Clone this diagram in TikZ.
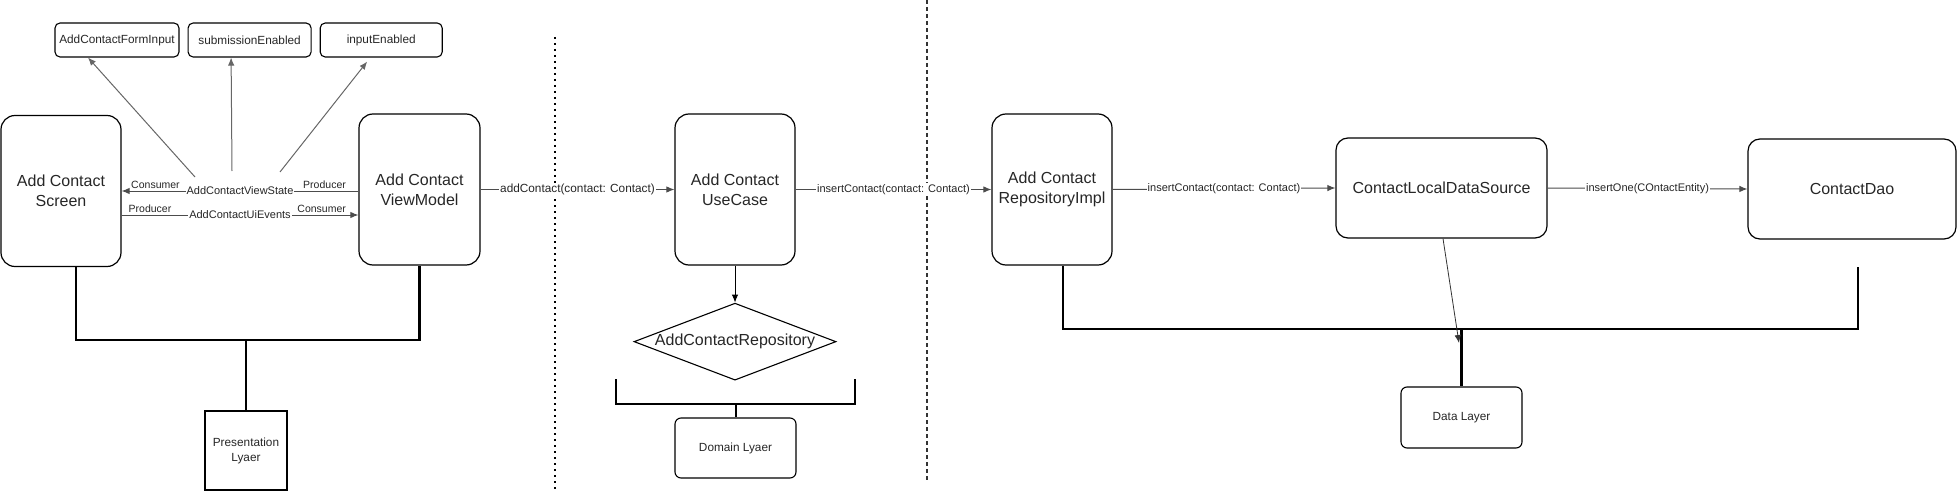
\documentclass[tikz,border=0pt]{standalone}
\usepackage{fontspec}
\setmainfont{Liberation Sans}
\usetikzlibrary{arrows,arrows.meta,positioning,shapes}
\tikzstyle{module}=[rectangle,rounded corners=14pt,draw=black,line width=1.2pt,
minimum width=120pt,minimum height=151pt,align=center,text=black!85,
font=\fontsize{16}{20}\selectfont]
\tikzstyle{wmodule}=[module,rounded corners=12pt,minimum height=100pt]
\tikzstyle{field}=[rectangle,rounded corners=5pt,draw=black,line width=1.1pt,
minimum height=34pt,text=black!85,font=\fontsize{11.8}{13}\selectfont]
\tikzstyle{tier}=[rectangle,rounded corners=6pt,draw=black,line width=1.1pt,
align=center,text=black!85,font=\fontsize{11.8}{15}\selectfont]
\tikzstyle{iface}=[diamond,aspect=2.6,inner sep=0pt,draw=black,line width=1.1pt,
minimum width=202pt,minimum height=77pt,text=black!85,font=\fontsize{16}{18}\selectfont]
\tikzstyle{flow}=[-{Latex[length=8pt,width=6.5pt]},black!70,line width=1pt]
\tikzstyle{lbl}=[fill=white,inner sep=1pt,text=black!85,font=\fontsize{11}{12}\selectfont]
\tikzstyle{side}=[inner sep=1pt,text=black!85,font=\fontsize{10.5}{12}\selectfont]
\tikzstyle{bracket}=[line width=2.2pt,black]

\begin{document}
\begin{tikzpicture}[x=1pt,y=-1pt]
            \useasboundingbox (0,0) rectangle (1957,492);

            % Presentation PART

            \node[module] (scr) at (61,191) {Add Contact\\Screen};
            \node[module,minimum width=121pt] (vm) at (419.5,189.5) {Add Contact\\ViewModel};
            \node[field,minimum width=124pt] (form) at (117,40) {AddContactFormInput};
            \node[field,minimum width=123pt,right=8pt of form] (subm) {submissionEnabled};
            \node[field,minimum width=122pt,right=8pt of subm] (inpt) {inputEnabled};
            \node[tier,rounded corners=0pt,minimum width=82pt,minimum height=79pt] (pres) at (246,450.5) {Presentation\\Lyaer};

            \coordinate (ev) at ([yshift=-24pt]scr.east);
            \path[flow] (vm.west |- scr.east) edge node[lbl] {AddContactViewState}
                node[side,pos=0.143,above=1pt] {Producer}
                node[side,pos=0.857,above=1pt] {Consumer} (scr.east);
            \path[flow] (ev) edge node[lbl] {AddContactUiEvents}
                node[side,pos=0.12,above=1pt] {Producer}
                node[side,pos=0.845,above=1pt] {Consumer} (ev -| vm.west);

            \coordinate (s1) at (195,177);
            \coordinate (s2) at (232,171);
            \coordinate (s3) at (280,172);
            \path[flow,black!60] (s1) edge ([xshift=-29pt]form.south);
            \path[flow,black!60] (s2) edge ([xshift=-18.5pt]subm.south);
            \path[flow,black!60] (s3) edge ([xshift=-14pt,yshift=-4pt]inpt.south);

            \draw[bracket] ([xshift=15pt]scr.south) -- ++(0,73) coordinate (pl) -| (vm.south);
            \draw[bracket] (pl -| pres.north) -- (pres.north);

            % Domain PART

            \draw[black,line width=2pt,dash pattern=on 2pt off 4pt] (555,37) -- (555,490);
            \draw[black!80,line width=1.2pt,dash pattern=on 4pt off 3pt] (927,0) -- (927,480);

            \node[module] (uc) at (735,189.5) {Add Contact\\UseCase};
            \node[iface,below=37pt of uc] (repo) {AddContactRepository};
            \node[tier,minimum width=121pt,minimum height=60pt] (dom) at (735.5,448) {Domain Lyaer};

            \path[flow] (vm.east) edge node[lbl,font=\fontsize{11.8}{13}\selectfont] {addContact(contact: Contact)} (uc.west);
            \path[flow,black] (uc) edge (repo);

            \draw[bracket,line width=2pt] (616,379) |- (855,404) -- (855,379);
            \draw[bracket,line width=2pt] (dom.north |- 0,404) -- (dom.north);

            % Data PART

            \node[module] (impl) at (1052,189.5) {Add Contact\\RepositoryImpl};
            \node[wmodule,minimum width=211pt] (lds) at (1441.5,188) {ContactLocalDataSource};
            \node[wmodule,minimum width=208pt] (dao) at (1852,189) {ContactDao};
            \node[tier,minimum width=121pt,minimum height=61pt] (data) at (1461.5,417.5) {Data Layer};

            \path[flow] (uc.east) edge node[lbl] {insertContact(contact: Contact)} (impl.west);
            \path[flow] (impl.east) edge node[lbl] {insertContact(contact: Contact)} (lds.west);
            \path[flow] (lds.east) edge node[lbl] {insertOne(COntactEntity)} (dao.west);

            \coordinate (dt) at ([xshift=6pt,yshift=-27pt]dao.south);
            \coordinate (dsa) at (1459,343);
            \draw[bracket] ([xshift=11pt]impl.south) -- ++(0,63) coordinate (dl) -| (dt);
            \draw[bracket] (dl -| data.north) -- (data.north);
            \path[flow,black!80,line width=0.8pt] ([xshift=1.5pt]lds.south) edge (dsa);

        \end{tikzpicture}
\end{document}
